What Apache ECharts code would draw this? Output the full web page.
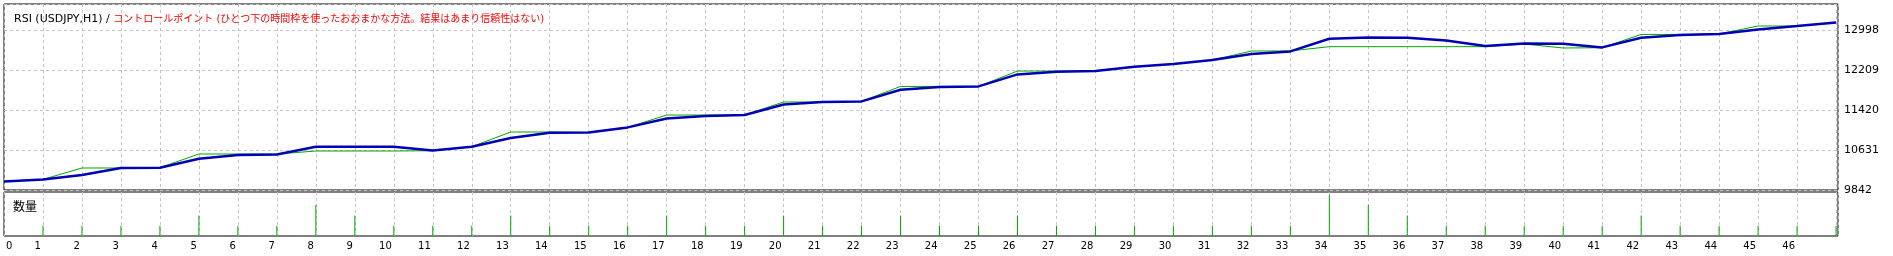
<!DOCTYPE html>
<html>
<head>
<meta charset="utf-8">
<script src="https://cdn.jsdelivr.net/npm/echarts@6/dist/echarts.min.js"></script>
<style>
html,body{margin:0;padding:0;background:#fff;}
#chart{width:1893px;height:256px;}
</style>
</head>
<body>
<div id="chart"></div>
<script>
// bar index (x positions)
const barIndex = [0,1,2,3,4,5,6,7,8,9,10,11,12,13,14,15,16,17,18,19,20,21,22,23,24,25,26,27,28,29,30,31,32,33,34,35,36,37,38,39,40,41,42,43,44,45,46,47];
// thick blue line
const blueLine = [10012,10051,10138,10276,10282,10459,10532,10544,10696,10696,10696,10623,10696,10868,10972,10978,11077,11254,11302,11321,11530,11578,11590,11820,11874,11885,12122,12175,12189,12274,12327,12406,12525,12576,12826,12852,12846,12793,12682,12734,12728,12655,12846,12899,12919,13010,13077,13148];
// thin green line (control points)
const greenLine = [10012,10051,10276,10276,10282,10552,10552,10552,10611,10611,10611,10617,10696,10986,10986,10978,11077,11321,11321,11321,11578,11578,11590,11885,11885,11885,12189,12189,12189,12274,12327,12406,12584,12584,12669,12669,12669,12669,12669,12722,12643,12649,12911,12911,12919,13077,13077,13148];
// volume (数量) per bar, bars 1..47
const volIndex = [1,2,3,4,5,6,7,8,9,10,11,12,13,14,15,16,17,18,19,20,21,22,23,24,25,26,27,28,29,30,31,32,33,34,35,36,37,38,39,40,41,42,43,44,45,46,47];
const volumes = [1,1,1,1,2,1,1,3,2,1,1,1,2,1,1,1,2,1,1,2,1,1,2,1,1,2,1,1,1,1,1,1,1,4,3,2,1,1,1,1,1,2,1,1,1,1,1];
// axis settings
const yMin = 9842, yStep = 789, yMax = 13511;
const xMin = 0, xMax = 47.05, lastXLabel = 46;
const titleBlack = 'RSI (USDJPY,H1) / ';
const titleRed = 'コントロールポイント (ひとつ下の時間枠を使ったおおまかな方法。結果はあまり信頼性はない)';
const volTitle = '数量';

const chart = echarts.init(document.getElementById('chart'), null, {renderer: 'canvas'});
const gridLine = {show: true, lineStyle: {color: '#c4c4c4', type: [3, 3], width: 1}};
const option = {
  animation: false,
  backgroundColor: '#ffffff',
  title: [
    {
      left: 9, top: 9,
      text: '{a|' + titleBlack + '}{b|' + titleRed + '}',
      textStyle: {
        fontWeight: 'normal',
        rich: {
          a: {fontFamily: 'DejaVu Sans', fontSize: 11, fontWeight: 'normal', color: '#000000'},
          b: {fontFamily: 'DejaVu Sans, Noto Sans CJK JP', fontSize: 10, fontWeight: 'normal', color: '#ff0000'}
        }
      }
    },
    {
      left: 8, top: 195,
      text: volTitle,
      textStyle: {fontFamily: 'Noto Sans CJK JP', fontSize: 12, fontWeight: 'normal', color: '#000000'}
    }
  ],
  grid: [
    {left: 4, right: 55, top: 4, height: 186, show: true, borderColor: '#000000', borderWidth: 1, backgroundColor: 'transparent'},
    {left: 4, right: 55, top: 192, height: 44, show: true, borderColor: '#000000', borderWidth: 1, backgroundColor: 'transparent'}
  ],
  xAxis: [
    {type: 'value', gridIndex: 0, min: xMin, max: xMax, interval: 1,
     axisLine: {show: false}, axisTick: {show: false}, axisLabel: {show: false}, splitLine: gridLine},
    {type: 'value', gridIndex: 1, min: xMin, max: xMax, interval: 1,
     axisLine: {show: false}, axisTick: {show: false}, splitLine: gridLine,
     axisLabel: {show: true, fontFamily: 'DejaVu Sans', fontSize: 10, color: '#000000', margin: 5,
       align: 'right', alignMinLabel: 'left', padding: [0, 2, 0, 2],
       formatter: v => (v > lastXLabel ? '' : String(v))}}
  ],
  yAxis: [
    {type: 'value', gridIndex: 0, position: 'right', min: yMin, max: yMax, interval: yStep,
     axisLine: {show: false}, axisTick: {show: false}, splitLine: gridLine,
     axisLabel: {show: true, showMaxLabel: false, fontFamily: 'DejaVu Sans', fontSize: 11, color: '#000000', margin: 6,
       formatter: v => String(v)}},
    {type: 'value', gridIndex: 1, min: 0, max: 4.27,
     axisLine: {show: false}, axisTick: {show: false}, axisLabel: {show: false}, splitLine: {show: false}}
  ],
  series: [
    {type: 'line', name: 'control', xAxisIndex: 0, yAxisIndex: 0, symbol: 'none', z: 2,
     lineStyle: {color: '#00a800', width: 1}, data: barIndex.map((x, i) => [x, greenLine[i]])},
    {type: 'line', name: 'rsi', xAxisIndex: 0, yAxisIndex: 0, symbol: 'none', z: 3,
     lineStyle: {color: '#0000b4', width: 2.5}, data: barIndex.map((x, i) => [x, blueLine[i]])},
    {type: 'bar', name: 'volume', xAxisIndex: 1, yAxisIndex: 1, barWidth: 1, z: 3,
     itemStyle: {color: '#00a800'}, data: volIndex.map((x, i) => [x, volumes[i]])}
  ]
};
chart.setOption(option);
</script>
</body>
</html>
